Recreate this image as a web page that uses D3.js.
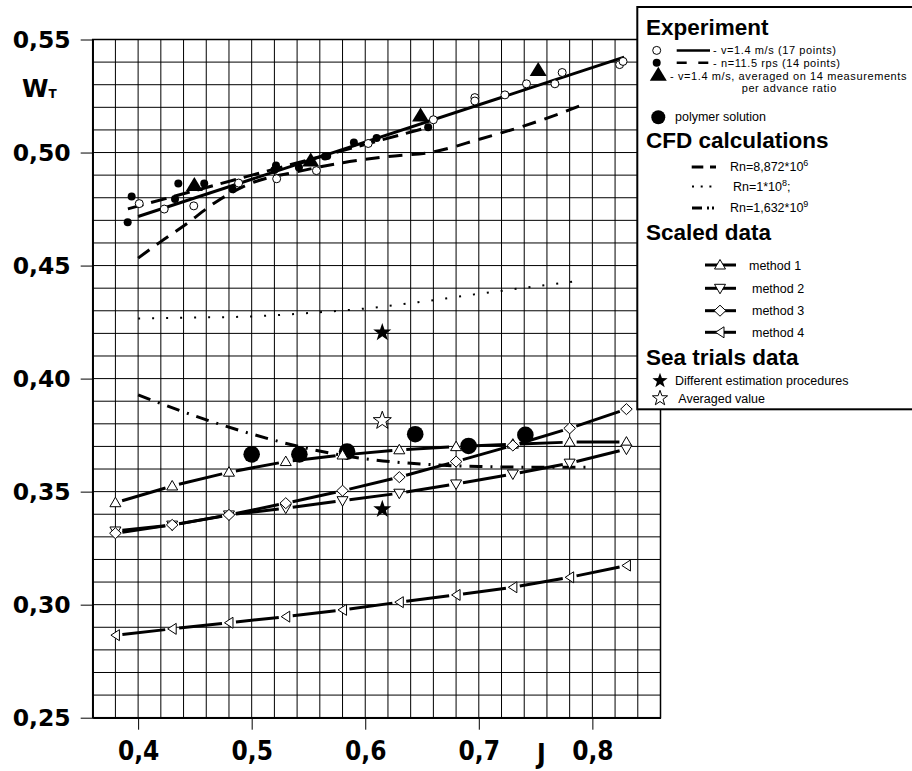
<!DOCTYPE html>
<html>
<head>
<meta charset="utf-8">
<script src="https://cdn.jsdelivr.net/npm/d3@7"></script>
<style>
  html, body { margin: 0; padding: 0; background: #fff; }
  svg { display: block; }
  .lbl { font-family: "Liberation Sans", Arial, sans-serif; font-size: 12.5px; fill: #000; }
  .lbl.tight { font-size: 11px; letter-spacing: 0.6px; }
  .hdr { font-family: "Liberation Sans", Arial, sans-serif; font-size: 22.5px; font-weight: bold; fill: #000; }
</style>
</head>
<body>
<svg id="chart" width="912" height="771"></svg>
<script>
// ---- Wake fraction W_T versus advance ratio J ----

// Experiment, v = 1.4 m/s (open circles)
const expV14 = [[0.401,0.4774],[0.423,0.4750],[0.449,0.4764],[0.4885,0.4865],[0.522,0.4884],
  [0.557,0.4920],[0.6026,0.5040],[0.660,0.5145],[0.6965,0.5243],[0.6965,0.5228],[0.723,0.5255],
  [0.742,0.5304],[0.767,0.5304],[0.7734,0.5354],[0.824,0.5389],[0.827,0.5403]];
// Experiment, n = 11.5 rps (small filled circles)
const expN115 = [[0.3943,0.4805],[0.3908,0.4692],[0.4354,0.4863],[0.4325,0.4794],[0.4582,0.4863],
  [0.4832,0.4838],[0.5214,0.4943],[0.520,0.4923],[0.5416,0.4934],[0.5665,0.4985],[0.5645,0.4982],
  [0.590,0.5044],[0.610,0.5064],[0.6554,0.5112]];
// Experiment, v = 1.4 m/s averaged (filled triangles)
const expAvg = [[0.4495,0.4854],[0.552,0.4963],[0.6487,0.5162],[0.7523,0.5363]];
// Fitted lines through the experiments
const fitV14 = [[0.400,0.4717],[0.828,0.5422]];
const fitN115 = [[0.391,0.4751],[0.655,0.5111]];
// Polymer solution (large filled circles)
const polymer = [[0.500,0.3665],[0.542,0.3665],[0.584,0.3677],[0.644,0.3754],[0.691,0.3702],[0.741,0.3751]];

// CFD calculations
const cfdRn6 = [[0.40,0.4533],[0.42,0.4606],[0.44,0.4675],[0.47,0.4786],[0.50,0.4865],[0.54,0.4915],
  [0.58,0.4955],[0.62,0.4982],[0.66,0.5003],[0.70,0.5058],[0.74,0.5118],[0.77,0.5170],[0.795,0.5218]];
const cfdRn8 = [[0.40,0.4266],[0.45,0.4270],[0.50,0.4275],[0.55,0.4290],[0.60,0.4310],[0.65,0.4340],
  [0.70,0.4375],[0.75,0.4408],[0.79,0.4434]];
const cfdRn9 = [[0.40,0.3928],[0.45,0.3835],[0.50,0.3755],[0.55,0.3690],[0.60,0.3645],[0.65,0.3622],
  [0.70,0.3611],[0.75,0.3608],[0.795,0.3608]];

// Scaled data, four methods at the same advance ratios
const methodJ = [0.38,0.43,0.48,0.53,0.58,0.63,0.68,0.73,0.78,0.83];
const method1 = [0.3451,0.3525,0.3586,0.3633,0.3662,0.3685,0.3699,0.3710,0.3719,0.3719];
const method2 = [0.3326,0.3352,0.3397,0.3427,0.3460,0.3493,0.3534,0.3578,0.3626,0.3688];
const method3 = [0.3316,0.3353,0.3397,0.3449,0.3504,0.3564,0.3633,0.3704,0.3780,0.3865];
const method4 = [0.2865,0.2893,0.2920,0.2947,0.2977,0.3011,0.3043,0.3077,0.3121,0.3173];

// Sea trials
const seaDifferent = [[0.615,0.4204],[0.615,0.3422]];
const seaAveraged = [[0.615,0.3814]];

// Axis ticks
const jTicks = [0.4,0.5,0.6,0.7,0.8];
const wTicks = [0.25,0.30,0.35,0.40,0.45,0.50,0.55];
const jGrid = d3.range(26).map(i => +(0.36 + i * 0.02).toFixed(2));
const wGrid = d3.range(31).map(i => +(0.25 + i * 0.01).toFixed(2));

const svg = d3.select("#chart");
const x = d3.scaleLinear().domain([0.36, 0.86]).range([92.7, 660.5]);
const y = d3.scaleLinear().domain([0.25, 0.55]).range([717.7, 39.5]);

// ---- grid ----
const grid = svg.append("g").attr("stroke", "#000").attr("stroke-width", 1);
grid.selectAll("line.v").data(jGrid).join("line").attr("class", "v")
  .attr("x1", d => x(d)).attr("x2", d => x(d)).attr("y1", y(0.25)).attr("y2", y(0.55));
grid.selectAll("line.h").data(wGrid).join("line").attr("class", "h")
  .attr("y1", d => y(d)).attr("y2", d => y(d)).attr("x1", x(0.36)).attr("x2", x(0.86));

// ---- axes ----
const commaFmt = p => d => d.toFixed(p).replace(".", ",");
const gy = svg.append("g").attr("transform", `translate(${x(0.36)},0)`)
  .call(d3.axisLeft(y).tickValues(wTicks).tickSize(12).tickSizeOuter(0).tickPadding(10).tickFormat(commaFmt(2)));
const gx = svg.append("g").attr("transform", `translate(0,${y(0.25)})`)
  .call(d3.axisBottom(x).tickValues(jTicks).tickSize(12).tickSizeOuter(0).tickPadding(12).tickFormat(commaFmt(1)));
[gy, gx].forEach(g => {
  g.select(".domain").attr("stroke", "#000").attr("stroke-width", 1.5);
  g.selectAll(".tick line").attr("stroke", "#000").attr("stroke-width", 1);
});
gy.selectAll("text").attr("fill", "#000")
  .style("font-family", "'DejaVu Sans', sans-serif").style("font-weight", "bold").style("font-size", "23.5px");
gx.selectAll("text").attr("fill", "#000")
  .style("font-family", "'DejaVu Sans Condensed', 'DejaVu Sans', sans-serif").style("font-stretch", "condensed")
  .style("font-weight", "bold").style("font-size", "26px");

// axis titles
const wt = svg.append("text").attr("x", 22).attr("y", 97)
  .style("font-family", "'DejaVu Sans', sans-serif").style("font-weight", "bold").style("font-size", "24px");
wt.append("tspan").text("W");
wt.append("tspan").attr("dy", 1).style("font-size", "12px").text("T");
svg.append("text").attr("x", x(0.755)).attr("y", 763).attr("text-anchor", "middle")
  .style("font-family", "'DejaVu Sans Condensed', 'DejaVu Sans', sans-serif").style("font-stretch", "condensed")
  .style("font-weight", "bold").style("font-size", "26px").text("J");

// plot frame
svg.append("rect").attr("x", x(0.36)).attr("y", y(0.55))
  .attr("width", x(0.86) - x(0.36)).attr("height", y(0.25) - y(0.55))
  .attr("fill", "none").attr("stroke", "#000").attr("stroke-width", 1.5);

// ---- helpers ----
const line = d3.line().x(d => x(d[0])).y(d => y(d[1]));
const smooth = d3.line().x(d => x(d[0])).y(d => y(d[1])).curve(d3.curveMonotoneX);
function starPath(R, r) {
  const p = [];
  for (let i = 0; i < 10; i++) {
    const a = -Math.PI / 2 + i * Math.PI / 5, rr = i % 2 ? r : R;
    p.push([rr * Math.cos(a), rr * Math.sin(a)]);
  }
  return "M" + p.map(q => q.join(",")).join("L") + "Z";
}
const shapes = {
  up: "M0,-5.5L5.5,4L-5.5,4Z",
  down: "M0,5.5L5.5,-4L-5.5,-4Z",
  diamond: "M0,-5.5L5.8,0L0,5.5L-5.8,0Z",
  left: "M-4.5,0L4,-5.5L4,5.5Z",
  bigTri: "M0,-8.5L8.5,5.5L-8.5,5.5Z"
};
// segments between consecutive markers, trimmed so they stop short of each marker
function gapped(g, pts, gap) {
  for (let i = 0; i < pts.length - 1; i++) {
    const x1 = x(pts[i][0]), y1 = y(pts[i][1]), x2 = x(pts[i + 1][0]), y2 = y(pts[i + 1][1]);
    const L = Math.hypot(x2 - x1, y2 - y1), ux = (x2 - x1) / L, uy = (y2 - y1) / L;
    g.append("line").attr("x1", x1 + ux * gap).attr("y1", y1 + uy * gap)
      .attr("x2", x2 - ux * gap).attr("y2", y2 - uy * gap)
      .attr("stroke", "#000").attr("stroke-width", 3);
  }
}

const plot = svg.append("g");

// CFD curves
plot.append("path").datum(cfdRn6).attr("d", smooth).attr("fill", "none")
  .attr("stroke", "#000").attr("stroke-width", 3).attr("stroke-dasharray", "14,9");
plot.append("path").datum(cfdRn8).attr("d", smooth).attr("fill", "none")
  .attr("stroke", "#000").attr("stroke-width", 2).attr("stroke-dasharray", "2,12");
plot.append("path").datum(cfdRn9).attr("d", smooth).attr("fill", "none")
  .attr("stroke", "#000").attr("stroke-width", 3).attr("stroke-dasharray", "13,8,2,8");

// experiment fits
plot.append("path").datum(fitV14).attr("d", line).attr("fill", "none")
  .attr("stroke", "#000").attr("stroke-width", 3);
plot.append("path").datum(fitN115).attr("d", line).attr("fill", "none")
  .attr("stroke", "#000").attr("stroke-width", 3).attr("stroke-dasharray", "16,8");

// scaled-data methods
const methods = [
  { vals: method1, shape: "up" },
  { vals: method2, shape: "down" },
  { vals: method3, shape: "diamond" },
  { vals: method4, shape: "left" }
];
methods.forEach(m => gapped(plot, methodJ.map((j, i) => [j, m.vals[i]]), 7));

// polymer solution
plot.selectAll("circle.poly").data(polymer).join("circle").attr("class", "poly")
  .attr("cx", d => x(d[0])).attr("cy", d => y(d[1])).attr("r", 8.3).attr("fill", "#000");

methods.forEach(m => {
  plot.selectAll(null).data(methodJ.map((j, i) => [j, m.vals[i]])).join("path")
    .attr("d", shapes[m.shape]).attr("transform", d => `translate(${x(d[0])},${y(d[1])})`)
    .attr("fill", "#fff").attr("stroke", "#000").attr("stroke-width", 1);
});

// experiment markers
plot.selectAll("circle.v14").data(expV14).join("circle").attr("class", "v14")
  .attr("cx", d => x(d[0])).attr("cy", d => y(d[1])).attr("r", 4)
  .attr("fill", "#fff").attr("stroke", "#000").attr("stroke-width", 1);
plot.selectAll("circle.n115").data(expN115).join("circle").attr("class", "n115")
  .attr("cx", d => x(d[0])).attr("cy", d => y(d[1])).attr("r", 4).attr("fill", "#000");
plot.selectAll("path.avg").data(expAvg).join("path").attr("class", "avg")
  .attr("d", shapes.bigTri).attr("transform", d => `translate(${x(d[0])},${y(d[1])})`).attr("fill", "#000");

// sea trials
plot.selectAll("path.sd").data(seaDifferent).join("path").attr("class", "sd")
  .attr("d", starPath(9.5, 3.8)).attr("transform", d => `translate(${x(d[0])},${y(d[1])})`).attr("fill", "#000");
plot.selectAll("path.sa").data(seaAveraged).join("path").attr("class", "sa")
  .attr("d", starPath(9.5, 3.8)).attr("transform", d => `translate(${x(d[0])},${y(d[1])})`)
  .attr("fill", "#fff").attr("stroke", "#000").attr("stroke-width", 1);

// ---- legend ----
const lg = svg.append("g");
lg.append("rect").attr("x", 637.3).attr("y", 7).attr("width", 300).attr("height", 402.3)
  .attr("fill", "#fff").attr("stroke", "#000").attr("stroke-width", 2);

const hdr = (t, yy) => lg.append("text").attr("class", "hdr").attr("x", 646).attr("y", yy).text(t);
const txt = (t, xx, yy, cls) => lg.append("text").attr("class", "lbl" + (cls ? " " + cls : ""))
  .attr("x", xx).attr("y", yy).text(t);
const seg = (x1, x2, yy, w, dash) => lg.append("line").attr("x1", x1).attr("x2", x2).attr("y1", yy).attr("y2", yy)
  .attr("stroke", "#000").attr("stroke-width", w).attr("stroke-dasharray", dash || null);

hdr("Experiment", 35);
lg.append("circle").attr("cx", 656.7).attr("cy", 50.4).attr("r", 4).attr("fill", "#fff").attr("stroke", "#000");
seg(676.7, 710, 50.4, 2.5);
txt("- v=1.4 m/s (17 points)", 713, 54.2, "tight");
lg.append("circle").attr("cx", 656.7).attr("cy", 62.8).attr("r", 4).attr("fill", "#000");
seg(676.7, 709, 62.8, 2.5, "10,11.6");
txt("- n=11.5 rps (14 points)", 713, 66.9, "tight");
lg.append("path").attr("d", shapes.bigTri).attr("transform", "translate(658.3,75.3)").attr("fill", "#000");
txt("- v=1.4 m/s, averaged on 14 measurements", 670, 79.6, "tight");
txt("per advance ratio", 741.7, 92.3, "tight");
lg.append("circle").attr("cx", 658.3).attr("cy", 117.3).attr("r", 7).attr("fill", "#000");
txt("polymer solution", 675, 121);

hdr("CFD calculations", 148.3);
const sup = (t, base, s, xx, yy) => {
  const e = lg.append("text").attr("class", "lbl").attr("x", xx).attr("y", yy);
  e.append("tspan").text(base);
  e.append("tspan").attr("dy", -5).style("font-size", "9px").text(s);
  if (t) e.append("tspan").attr("dy", 5).text(t);
};
seg(691.7, 716, 167, 3, "11.6,6.7");
sup("", "Rn=8,872*10", "6", 730, 171);
seg(692, 712, 186.5, 2, "2,6.7");
sup(";", "Rn=1*10", "8", 733, 190.5);
seg(692, 714, 208, 3, "10,5,2,3");
sup("", "Rn=1,632*10", "9", 730, 212);

hdr("Scaled data", 240);
const mRows = [
  { shape: "up", label: "method 1", cy: 265, tx: 749 },
  { shape: "down", label: "method 2", cy: 288.3, tx: 752 },
  { shape: "diamond", label: "method 3", cy: 310.7, tx: 752 },
  { shape: "left", label: "method 4", cy: 332.3, tx: 752 }
];
mRows.forEach(r => {
  seg(705, 736, r.cy, 3);
  lg.append("path").attr("d", shapes[r.shape]).attr("transform", `translate(720,${r.cy})`)
    .attr("fill", "#fff").attr("stroke", "#000").attr("stroke-width", 1);
  txt(r.label, r.tx, r.cy + 4.5);
});

hdr("Sea trials data", 365);
lg.append("path").attr("d", starPath(8, 3.2)).attr("transform", "translate(660,380.7)").attr("fill", "#000");
txt("Different estimation procedures", 675, 385);
lg.append("path").attr("d", starPath(8, 3.2)).attr("transform", "translate(660,398.3)")
  .attr("fill", "#fff").attr("stroke", "#000").attr("stroke-width", 1);
txt("Averaged value", 678.3, 402.7);
</script>
</body>
</html>
